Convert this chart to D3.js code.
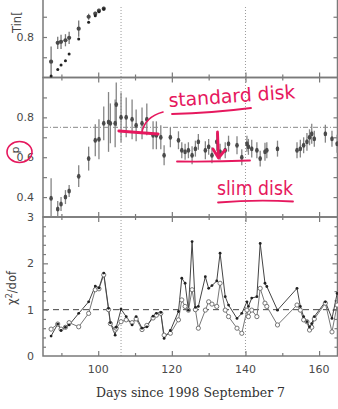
<!DOCTYPE html>
<html>
<head>
<meta charset="utf-8">
<script src="https://cdn.jsdelivr.net/npm/d3@7"></script>
<style>
  html, body { margin: 0; padding: 0; background: #fff; }
  svg { display: block; }
</style>
</head>
<body>
<svg id="chart" width="338" height="409"></svg>
<script>
// Observation days (days since 1998 September 7)
const days = [87.2, 89.0, 89.9, 91.1, 92.1, 94.7, 97.4, 99.2, 100.2, 101.5,
  102.8, 103.3, 104.6, 104.9, 106.2, 107.6, 109.2, 110.3, 111.9, 113.2,
  114.9, 115.8, 117.0, 117.9, 119.6, 121.8, 122.7, 123.6, 124.5, 125.5,
  126.4, 127.2, 129.1, 130.0, 130.9, 132.2, 133.1, 134.5, 135.4, 137.7,
  139.0, 140.4, 140.8, 141.7, 143.1, 144.0, 145.3, 145.8, 148.7, 154.0,
  154.9, 155.8, 156.7, 157.4, 158.0, 158.7, 161.7, 163.5, 164.9];

// Inner-disk temperature (first days only)
const tinMain = [0.678, 0.771, 0.776, 0.784, 0.796, 0.841, 0.900, 0.915, 0.930, 0.940];
const tinErr  = [0.075, 0.03, 0.035, 0.03, 0.03, 0.04, 0.015, 0.01, 0.01, 0.01];
const tinAlt  = [0.607, 0.640, 0.662, 0.683, 0.716, 0.790, 0.873, 0.905, 0.925, 0.938];

// Temperature-profile index p and its errors
const pVal = [0.394, 0.34, 0.365, 0.40, 0.43, 0.505, 0.593, 0.685, 0.69, 0.77,
  0.777, 0.77, 0.77, 0.865, 0.80, 0.80, 0.79, 0.76, 0.77, 0.79,
  0.71, 0.71, 0.70, 0.61, 0.70, 0.685, 0.635, 0.627, 0.635, 0.61,
  0.643, 0.677, 0.635, 0.652, 0.61, 0.677, 0.627, 0.635, 0.668, 0.66,
  0.60, 0.668, 0.652, 0.643, 0.635, 0.593, 0.627, 0.635, 0.643, 0.635,
  0.643, 0.66, 0.677, 0.70, 0.718, 0.693, 0.718, 0.693, 0.668];
const pErr = [0.1, 0.04, 0.035, 0.035, 0.03, 0.055, 0.06, 0.08, 0.1, 0.085,
  0.15, 0.1, 0.12, 0.11, 0.125, 0.1, 0.1, 0.08, 0.08, 0.08,
  0.07, 0.07, 0.06, 0.05, 0.05, 0.045, 0.04, 0.04, 0.04, 0.045,
  0.04, 0.04, 0.045, 0.04, 0.04, 0.045, 0.04, 0.04, 0.04, 0.045,
  0.04, 0.04, 0.04, 0.045, 0.04, 0.04, 0.045, 0.04, 0.04, 0.04,
  0.045, 0.04, 0.045, 0.04, 0.05, 0.04, 0.045, 0.04, 0.045];

// Reduced chi-square of the two model fits
const chiA = [0.43, 0.69, 0.55, 0.62, 0.67, 0.92, 1.17, 1.51, 1.47, 1.79,
  1.03, 0.72, 0.45, 0.62, 1.01, 0.85, 0.67, 0.85, 0.60, 0.63,
  0.86, 0.92, 0.94, 0.38, 0.55, 0.96, 1.68, 1.57, 0.99, 2.47,
  1.05, 1.07, 1.71, 1.46, 1.52, 1.62, 2.22, 1.28, 1.10, 0.81,
  0.92, 1.17, 1.07, 1.25, 1.28, 2.43, 1.57, 1.50, 0.99, 1.46,
  1.07, 0.85, 0.74, 0.63, 0.70, 0.85, 1.17, 0.81, 1.35];
const chiB = [0.58, 0.69, 0.58, 0.62, 0.72, 0.63, 0.92, 1.43, 1.45, 1.75,
  1.00, 0.70, 0.56, 0.60, 0.74, 0.78, 0.72, 0.80, 0.57, 0.66,
  0.82, 0.88, 0.92, 0.45, 0.49, 0.78, 1.21, 1.07, 0.99, 1.43,
  1.00, 0.60, 0.99, 1.17, 1.12, 1.07, 1.57, 0.99, 0.85, 0.60,
  0.49, 0.99, 0.85, 0.99, 0.85, 1.46, 1.14, 1.07, 0.67, 1.10,
  0.99, 0.78, 0.74, 0.56, 0.62, 0.80, 1.14, 0.52, 1.10];

// Axis ticks
const xMajor = [100, 120, 140, 160];
const xMinor = [90, 110, 130, 150];
const tinTicks = [0.7, 0.8, 0.9];
const tinLabels = [0.8];
const pTicks = [0.4, 0.5, 0.6, 0.7, 0.8, 0.9];
const pLabels = [0.4, 0.6, 0.8];
const chiMinor = [0.2, 0.4, 0.6, 0.8, 1.2, 1.4, 1.6, 1.8, 2.2, 2.4, 2.6, 2.8];
const chiMajor = [1, 2];
const chiLabels = [0, 1, 2, 3];
const markerDays = [106.2, 140];
const pRef = 0.75;
const chiRef = 1;

const svg = d3.select("#chart");
const L = 43, R = 337.5;
const x = d3.scaleLinear().domain([85, 165]).range([L, R]);

const panels = {
  tin: { y: d3.scaleLinear().domain([0.6, 1.0]).range([77.5, -3.5]), top: -30, bottom: 77.5 },
  p:   { y: d3.scaleLinear().domain([0.3, 1.0]).range([217, 77.5]), top: 77.5, bottom: 217 },
  chi: { y: d3.scaleLinear().domain([0, 3]).range([356, 217]), top: 217, bottom: 356 }
};

const frameColor = "#7a7a7a";
const labelFont = "'DejaVu Sans', sans-serif";

// Reference lines first so data sit above them
markerDays.forEach(d => {
  svg.append("line")
    .attr("x1", x(d)).attr("x2", x(d))
    .attr("y1", 7).attr("y2", 356)
    .attr("stroke", "#9a9a9a").attr("stroke-width", 1)
    .attr("stroke-dasharray", "1,2");
});
svg.append("line")
  .attr("x1", L).attr("x2", R)
  .attr("y1", panels.p.y(pRef)).attr("y2", panels.p.y(pRef))
  .attr("stroke", "#888").attr("stroke-width", 1)
  .attr("stroke-dasharray", "5,2,1,2");
svg.append("line")
  .attr("x1", L).attr("x2", R)
  .attr("y1", panels.chi.y(chiRef)).attr("y2", panels.chi.y(chiRef))
  .attr("stroke", "#444").attr("stroke-width", 1)
  .attr("stroke-dasharray", "6,4");

// Tick marks drawn with d3 axes, pointing into each panel
function tickAxis(gen, tx, ty) {
  const g = svg.append("g").attr("transform", `translate(${tx},${ty})`).call(gen);
  g.select(".domain").remove();
  g.selectAll("text").remove();
  g.selectAll("line").attr("stroke", frameColor).attr("stroke-width", 1.2);
  return g;
}

Object.values(panels).forEach(pn => {
  tickAxis(d3.axisBottom(x).tickValues(xMajor).tickSize(-5), 0, pn.bottom);
  tickAxis(d3.axisBottom(x).tickValues(xMinor).tickSize(-3), 0, pn.bottom);
  if (pn.top >= 0) {
    tickAxis(d3.axisTop(x).tickValues(xMajor).tickSize(-5), 0, pn.top);
    tickAxis(d3.axisTop(x).tickValues(xMinor).tickSize(-3), 0, pn.top);
  }
});

tickAxis(d3.axisLeft(panels.tin.y).tickValues(tinTicks).tickSize(-4), L, 0);
tickAxis(d3.axisRight(panels.tin.y).tickValues(tinTicks).tickSize(-4), R, 0);
tickAxis(d3.axisLeft(panels.p.y).tickValues(pTicks).tickSize(-4), L, 0);
tickAxis(d3.axisRight(panels.p.y).tickValues(pTicks).tickSize(-4), R, 0);
tickAxis(d3.axisLeft(panels.chi.y).tickValues(chiMinor).tickSize(-3), L, 0);
tickAxis(d3.axisRight(panels.chi.y).tickValues(chiMinor).tickSize(-3), R, 0);
tickAxis(d3.axisLeft(panels.chi.y).tickValues(chiMajor).tickSize(-5), L, 0);
tickAxis(d3.axisRight(panels.chi.y).tickValues(chiMajor).tickSize(-5), R, 0);

// Panel frames
Object.values(panels).forEach(pn => {
  svg.append("rect")
    .attr("x", L).attr("y", pn.top)
    .attr("width", R - L).attr("height", pn.bottom - pn.top)
    .attr("fill", "none").attr("stroke", frameColor).attr("stroke-width", 1.5);
});

// Tick labels
function yLabels(pn, vals, fmt) {
  svg.selectAll(null).data(vals).enter().append("text")
    .attr("x", 34).attr("y", d => pn.y(d) + 4)
    .attr("text-anchor", "end")
    .attr("font-family", labelFont).attr("font-size", 11)
    .attr("fill", "#4a4a4a")
    .text(fmt);
}
yLabels(panels.tin, tinLabels, d3.format(".1f"));
yLabels(panels.p, pLabels, d3.format(".1f"));
yLabels(panels.chi, chiLabels, d3.format("d"));

svg.selectAll(null).data(xMajor).enter().append("text")
  .attr("x", d => x(d)).attr("y", 373)
  .attr("text-anchor", "middle")
  .attr("font-family", labelFont).attr("font-size", 11)
  .attr("fill", "#4a4a4a")
  .text(d => d);

// Axis titles
svg.append("text")
  .attr("x", 190.5).attr("y", 397)
  .attr("text-anchor", "middle")
  .attr("font-family", "'DejaVu Serif', serif").attr("font-size", 12.5)
  .attr("fill", "#333")
  .text("Days since 1998 September 7");

svg.append("text")
  .attr("transform", "translate(21,33) rotate(-90)")
  .attr("font-family", labelFont).attr("font-size", 11.5)
  .attr("fill", "#444")
  .text("Tin[");

svg.append("text")
  .attr("transform", "translate(19,150) rotate(-90)")
  .attr("text-anchor", "middle")
  .attr("font-family", labelFont).attr("font-size", 11)
  .attr("fill", "#444")
  .text("p");

const chiTitle = svg.append("text")
  .attr("transform", "translate(16,288) rotate(-90)")
  .attr("text-anchor", "middle")
  .attr("font-family", labelFont).attr("font-size", 11.5)
  .attr("fill", "#444");
chiTitle.append("tspan").text("χ");
chiTitle.append("tspan").attr("dy", -4).attr("font-size", 8).text("2");
chiTitle.append("tspan").attr("dy", 4).text("/dof");

// Top panel: temperature points
const tinG = svg.append("g");
tinMain.forEach((v, i) => {
  const cx = x(days[i]);
  tinG.append("line")
    .attr("x1", cx).attr("x2", cx)
    .attr("y1", panels.tin.y(v - tinErr[i])).attr("y2", panels.tin.y(v + tinErr[i]))
    .attr("stroke", "#777").attr("stroke-width", 1.3);
});
tinG.selectAll("circle.main").data(tinMain).enter().append("circle")
  .attr("cx", (d, i) => x(days[i])).attr("cy", d => panels.tin.y(d))
  .attr("r", 2.1).attr("fill", "#4a4a4a");
tinG.selectAll("circle.alt").data(tinAlt).enter().append("circle")
  .attr("cx", (d, i) => x(days[i])).attr("cy", d => panels.tin.y(d))
  .attr("r", 1.5).attr("fill", "#222");

// Middle panel: p with error bars
const pG = svg.append("g");
pG.selectAll("line").data(pVal).enter().append("line")
  .attr("x1", (d, i) => x(days[i])).attr("x2", (d, i) => x(days[i]))
  .attr("y1", (d, i) => panels.p.y(Math.max(0.3, d - pErr[i])))
  .attr("y2", (d, i) => panels.p.y(Math.min(1.0, d + pErr[i])))
  .attr("stroke", "#858585").attr("stroke-width", 1.3);
pG.selectAll("ellipse").data(pVal).enter().append("ellipse")
  .attr("cx", (d, i) => x(days[i])).attr("cy", d => panels.p.y(d))
  .attr("rx", 1.8).attr("ry", 2.5).attr("fill", "#4a4a4a");

// Bottom panel: chi-square curves
const lineFor = vals => d3.line()
  .x((d, i) => x(days[i]))
  .y(d => panels.chi.y(d))(vals);
svg.append("path").attr("d", lineFor(chiB))
  .attr("fill", "none").attr("stroke", "#777").attr("stroke-width", 1);
svg.append("path").attr("d", lineFor(chiA))
  .attr("fill", "none").attr("stroke", "#444").attr("stroke-width", 1);
svg.selectAll("circle.chiB").data(chiB).enter().append("circle")
  .attr("cx", (d, i) => x(days[i])).attr("cy", d => panels.chi.y(d))
  .attr("r", 2.1).attr("fill", "#fff").attr("stroke", "#666").attr("stroke-width", 0.9);
svg.selectAll("circle.chiA").data(chiA).enter().append("circle")
  .attr("cx", (d, i) => x(days[i])).attr("cy", d => panels.chi.y(d))
  .attr("r", 1.4).attr("fill", "#222");

// Hand-drawn notes in pink
const ink = "#e6185e";
const note = svg.append("g").attr("fill", "none").attr("stroke", ink)
  .attr("stroke-linecap", "round").attr("stroke-linejoin", "round");

note.append("ellipse")
  .attr("cx", 19.5).attr("cy", 152).attr("rx", 12.5).attr("ry", 10.5)
  .attr("stroke-width", 1.6);

note.append("path").attr("d", "M119,131 L138,132.5 L158,134")
  .attr("stroke-width", 3.2);
note.append("path").attr("d", "M142,132 Q145,117 163,112")
  .attr("stroke-width", 1.6);
note.append("path").attr("d", "M172,114 Q212,113 251,108")
  .attr("stroke-width", 1.8);

note.append("path").attr("d", "M177,161.5 Q213,162 250,160.5")
  .attr("stroke-width", 1.8);
note.append("path").attr("d", "M217.5,132 L218.5,158 M213,149 L218.5,158 L225,150")
  .attr("stroke-width", 2.8);
note.append("path").attr("d", "M218,202.5 Q255,199.5 293,201.5")
  .attr("stroke-width", 1.8);

svg.append("text")
  .attr("transform", "translate(169,107) rotate(-4)")
  .attr("font-family", "'DejaVu Sans Condensed', 'Liberation Sans Narrow', sans-serif")
  .attr("font-size", 19).attr("font-weight", 300)
  .attr("textLength", 127).attr("lengthAdjust", "spacingAndGlyphs")
  .attr("fill", ink)
  .text("standard disk");

svg.append("text")
  .attr("x", 217).attr("y", 195)
  .attr("font-family", "'DejaVu Sans Condensed', 'Liberation Sans Narrow', sans-serif")
  .attr("font-size", 20).attr("font-weight", 300)
  .attr("textLength", 76).attr("lengthAdjust", "spacingAndGlyphs")
  .attr("fill", ink)
  .text("slim disk");
</script>
</body>
</html>
